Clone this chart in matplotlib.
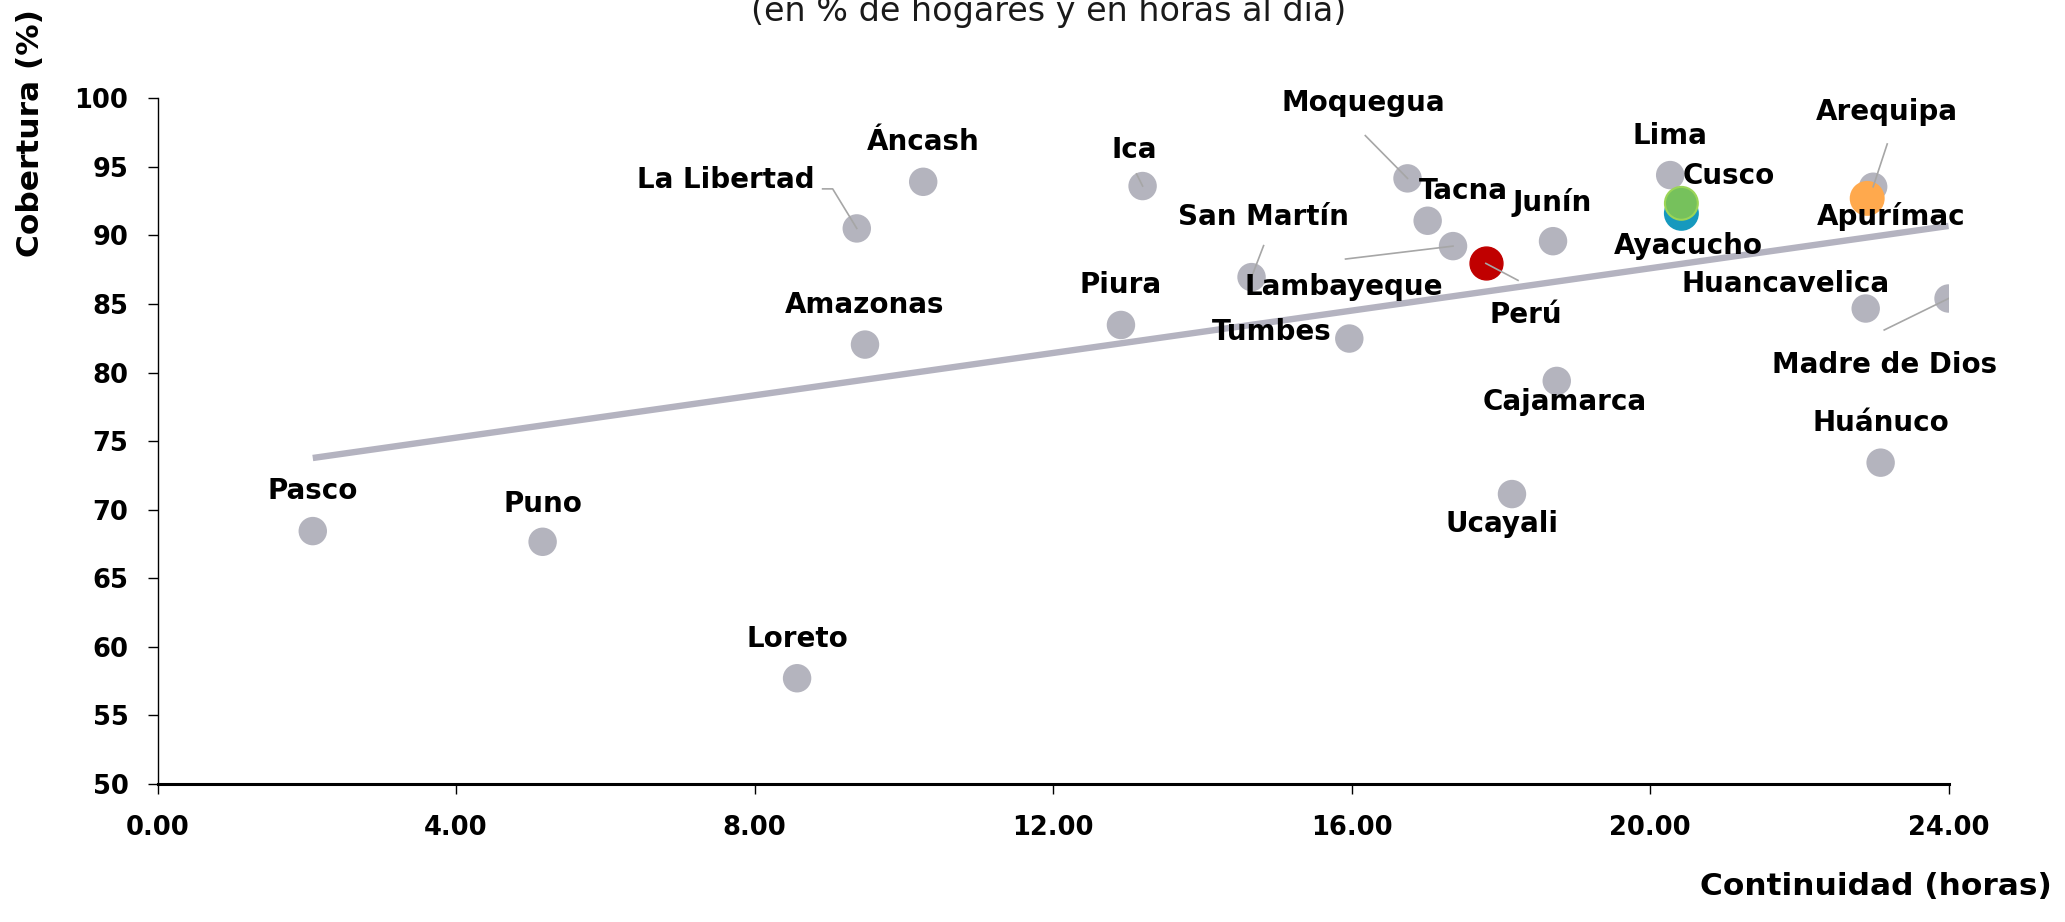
import numpy as np
import matplotlib
matplotlib.use("Agg")
import matplotlib.pyplot as plt
from matplotlib.ticker import MultipleLocator, FormatStrFormatter

plt.rcParams['font.family'] = ['DejaVu Sans']

# datos: continuidad (horas) y cobertura (%)
regiones = ['Pasco', 'Puno', 'Loreto', 'Amazonas', 'La Libertad', 'Áncash', 'Piura', 'Ica',
            'San Martín', 'Tumbes', 'Moquegua', 'Tacna', 'Lambayeque', 'Ucayali', 'Junín',
            'Cajamarca', 'Lima', 'Huancavelica', 'Arequipa', 'Huánuco', 'Madre de Dios',
            'Ayacucho', 'Cusco', 'Apurímac']
continuidad = [2.08, 5.16, 8.57, 9.48, 9.37, 10.26, 12.91, 13.20,
               14.66, 15.97, 16.75, 17.02, 17.36, 18.15, 18.70,
               18.75, 20.27, 22.89, 22.99, 23.09, 24.00,
               20.42, 20.42, 22.91]
cobertura = [68.44, 67.66, 57.71, 82.04, 90.51, 93.91, 83.47, 93.60,
             86.96, 82.48, 94.16, 91.07, 89.22, 71.14, 89.58,
             79.39, 94.40, 84.67, 93.55, 73.43, 85.40,
             91.61, 92.34, 92.70]
peru_x = [17.80]
peru_y = [87.96]

x_ticks = [0, 4, 8, 12, 16, 20, 24]
y_ticks = [50, 55, 60, 65, 70, 75, 80, 85, 90, 95, 100]

# colores de los puntos destacados
destacados = {
    'Ayacucho': ('#1699be', '#1699be'),
    'Cusco': ('#76c15c', '#9bd557'),
    'Apurímac': ('#ffa94d', '#ffa94d'),
}
gris = '#b4b4be'

# posicion de etiquetas (pixeles respecto al punto) y lineas guia
etiquetas = {
    'Pasco': (0, 40), 'Puno': (0, 38), 'Loreto': (0, 39), 'Amazonas': (0, 40),
    'La Libertad': (-42, 48), 'Áncash': (0, 40), 'Piura': (0, 40), 'Ica': (-8, 36),
    'San Martín': (12, 60), 'Tumbes': (-78, 7), 'Moquegua': (-44, 75), 'Tacna': (36, 30),
    'Lambayeque': (-109, -41), 'Ucayali': (-10, -30), 'Junín': (-1, 39),
    'Cajamarca': (8, -21), 'Lima': (0, 39), 'Huancavelica': (-80, 25),
    'Arequipa': (14, 75), 'Huánuco': (0, 40), 'Madre de Dios': (-64, -66),
    'Ayacucho': (7, -33), 'Cusco': (47, 27), 'Apurímac': (24, -18), 'Perú': (40, -52),
}
guias = {
    'La Libertad': [(-34, 49), (-24, 49)],
    'Ica': [(-6, 15)],
    'San Martín': [(12, 39)],
    'Moquegua': [(-42, 53)],
    'Lambayeque': [(-107, -16)],
    'Arequipa': [(14, 53)],
    'Madre de Dios': [(-64, -39)],
    'Perú': [(32, -21)],
}

fig = plt.figure(figsize=(20.65, 9.22), dpi=100)
ax = fig.add_axes([0.0763, 0.1497, 0.8673, 0.7437])

x = np.array(continuidad)
y = np.array(cobertura)

# linea de tendencia
m, b = np.polyfit(x, y, 1)
xt = np.array([x.min(), x.max()])
ax.plot(xt, m * xt + b, color='#b4b3c0', lw=4.6, solid_capstyle='butt', zorder=4)

colores = []
bordes = []
tam = []
for r in regiones:
    if r in destacados:
        colores.append(destacados[r][0])
        bordes.append(destacados[r][1])
        tam.append(560)
    else:
        colores.append(gris)
        bordes.append(gris)
        tam.append(360)
ax.scatter(x, y, s=tam, c=colores, edgecolors=bordes, linewidths=1.5, zorder=3)
ax.scatter(peru_x, peru_y, s=560, c='#c00000', edgecolors='#c00000', zorder=3)

# guias y etiquetas
trans = ax.transData
todos = list(zip(regiones, continuidad, cobertura)) + [('Perú', peru_x[0], peru_y[0])]
for nombre, px, py in todos:
    X0, Y0 = trans.transform((px, py))
    if nombre in guias:
        pts = [(X0 + dx, Y0 + dy) for dx, dy in guias[nombre]] + [(X0, Y0)]
        pts = np.array([ax.transData.inverted().transform(p) for p in pts])
        ax.plot(pts[:, 0], pts[:, 1], color='#a6a6a6', lw=1.2, zorder=5)
    dx, dy = etiquetas[nombre]
    ha = 'right' if nombre == 'La Libertad' else 'center'
    ax.annotate(nombre, (px, py), xytext=(dx, dy), textcoords='offset pixels',
                ha=ha, va='center', fontsize=20, fontweight='bold', color='black', zorder=6)

ax.set_xlim(0, 24)
ax.set_ylim(50, 100)
ax.set_xticks(x_ticks)
ax.set_yticks(y_ticks)
ax.xaxis.set_major_formatter(FormatStrFormatter('%.2f'))

for s in ['top', 'right']:
    ax.spines[s].set_visible(False)
ax.spines['left'].set_linewidth(1)
ax.spines['bottom'].set_linewidth(2.2)
ax.tick_params(axis='both', direction='out', length=7, width=1, labelsize=18.5)
ax.tick_params(axis='x', pad=15)
ax.tick_params(axis='y', pad=14)
for lbl in ax.get_xticklabels() + ax.get_yticklabels():
    lbl.set_fontweight('bold')

fig.text(0.0148, 0.856, 'Cobertura (%)', rotation=90, ha='center', va='center',
         fontsize=22.5, fontweight='bold')
fig.text(0.9937, 0.038, 'Continuidad (horas)', ha='right', va='center',
         fontsize=22.5, fontweight='bold')
fig.text(0.508, 0.977, '(en % de hogares y en horas al día)', ha='center', va='baseline',
         fontsize=24, color='#1a1a1a')

fig.savefig('out.png', dpi=100)
